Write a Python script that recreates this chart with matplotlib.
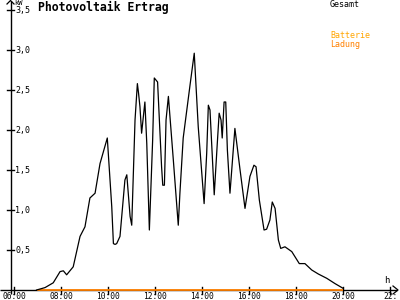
import matplotlib
matplotlib.use("Agg")
import matplotlib.pyplot as plt

# ---- data ----
title = "Photovoltaik Ertrag"
x_tick_hours = [6, 8, 10, 12, 14, 16, 18, 20, 22]
x_tick_labels = ["06:00", "08:00", "10:00", "12:00", "14:00", "16:00", "18:00", "20:00", "22:"]
y_ticks = [0.5, 1.0, 1.5, 2.0, 2.5, 3.0, 3.5]
y_tick_labels = ["0,5", "1,0", "1,5", "2,0", "2,5", "3,0", "3,5"]

gesamt_hours = [6.96, 7.32, 7.67, 7.96, 8.10, 8.24, 8.52, 8.81, 9.02, 9.23, 9.45, 9.66, 9.97,
                10.16, 10.23, 10.30, 10.37, 10.51, 10.72, 10.80, 10.94, 11.01, 11.15, 11.25,
                11.30, 11.36, 11.43, 11.57, 11.65, 11.76, 11.90, 11.97, 12.11, 12.28,
                12.33, 12.40, 12.47, 12.57, 12.78, 12.99, 13.06, 13.20, 13.49, 13.67,
                13.84, 14.09, 14.20, 14.27, 14.34, 14.52, 14.65, 14.73, 14.81, 14.86,
                14.94, 15.01, 15.08, 15.19, 15.40, 15.62, 15.83, 16.04, 16.21, 16.30,
                16.44, 16.64, 16.75, 16.89, 16.99, 17.11, 17.25, 17.35, 17.53, 17.82, 18.14,
                18.38, 18.67, 18.95, 19.31, 19.66, 20.01]
gesamt_kw = [0.00, 0.03, 0.09, 0.23, 0.24, 0.19, 0.29, 0.67, 0.79, 1.15, 1.21, 1.58, 1.90,
             1.04, 0.58, 0.57, 0.58, 0.67, 1.375, 1.44, 0.92, 0.81, 2.125, 2.58,
             2.46, 2.29, 1.96, 2.35, 1.83, 0.75, 1.875, 2.65, 2.60, 1.54,
             1.31, 1.31, 2.125, 2.42, 1.625, 0.81, 1.21, 1.90, 2.56, 2.96,
             2.04, 1.08, 1.71, 2.31, 2.25, 1.19, 1.83, 2.21, 2.125, 1.90,
             2.35, 2.35, 1.75, 1.21, 2.02, 1.50, 1.02, 1.42, 1.56, 1.54,
             1.125, 0.75, 0.76, 0.875, 1.10, 1.02, 0.625, 0.52, 0.54, 0.48, 0.33,
             0.33, 0.25, 0.20, 0.146, 0.08, 0.02]

ladung_hours = [6.96, 20.0]
ladung_kw = [0.0, 0.0]

legend_labels = ["Gesamt", "Batterie", "Ladung"]
legend_colors = ["black", "#FFA500", "#FF8000"]

# ---- figure ----
W, H, DPI = 400, 300, 100
fig = plt.figure(figsize=(W / DPI, H / DPI), dpi=DPI)
ax = fig.add_axes([0, 0, 1, 1])
px_per_h = 23.5
px_per_kw = 80.0
x0_px, y0_px = 14.0, 290.0  # pixel of 06:00 / 0 kW
def hx(px):
    return 6 + (px - x0_px) / px_per_h
def ky(py):
    return (y0_px - py) / px_per_kw
ax.set_xlim(hx(0), hx(W))
ax.set_ylim(ky(H), ky(0))
for s in ax.spines.values():
    s.set_visible(False)
ax.set_xticks([])
ax.set_yticks([])
ax.set_facecolor("white")

mono = "DejaVu Sans Mono"
yaxis_x = hx(10.5)

# axes lines
ax.plot([hx(0), hx(397)], [0, 0], color="black", lw=1.0, solid_capstyle="butt")
ax.plot([yaxis_x, yaxis_x], [ky(294), ky(1)], color="black", lw=1.0, solid_capstyle="butt")
# arrow heads
ax.plot([hx(393), hx(398), hx(393)], [ky(286), ky(290), ky(294)], color="black", lw=0.9)
ax.plot([hx(7), hx(10.5), hx(14)], [ky(4), ky(0.5), ky(4)], color="black", lw=0.9)

# ticks
for h, lab in zip(x_tick_hours, x_tick_labels):
    ax.plot([h, h], [ky(287), ky(293.5)], color="black", lw=1.0)
    ax.text(h, ky(292), lab, fontsize=5.7, family=mono, ha="center", va="top", color="black")
for v, lab in zip(y_ticks, y_tick_labels):
    ax.plot([hx(7), hx(14)], [v, v], color="black", lw=1.0)
    ax.text(hx(15), v, lab, fontsize=6, family=mono, ha="left", va="center", color="black")

ax.text(hx(14.5), ky(0), "kW", fontsize=5, family=mono, ha="left", va="top")
ax.text(hx(384.5), ky(285), "h", fontsize=6.5, family=mono, ha="left", va="bottom")

# title
ax.text(hx(38), ky(1), title, fontsize=8.3, family=mono, fontweight="bold", ha="left", va="top")

# legend
ax.text(hx(330), ky(0), legend_labels[0], fontsize=6, family=mono, color=legend_colors[0], ha="left", va="top")
ax.text(hx(330), ky(31), legend_labels[1], fontsize=6, family=mono, color=legend_colors[1], ha="left", va="top")
ax.text(hx(330), ky(40), legend_labels[2], fontsize=6, family=mono, color=legend_colors[2], ha="left", va="top")

# series
ax.plot(ladung_hours, ladung_kw, color=legend_colors[2], lw=1.3, solid_capstyle="butt", zorder=3)
ax.plot(gesamt_hours, gesamt_kw, color="black", lw=0.9, zorder=4)

fig.savefig("out.png", dpi=DPI)
